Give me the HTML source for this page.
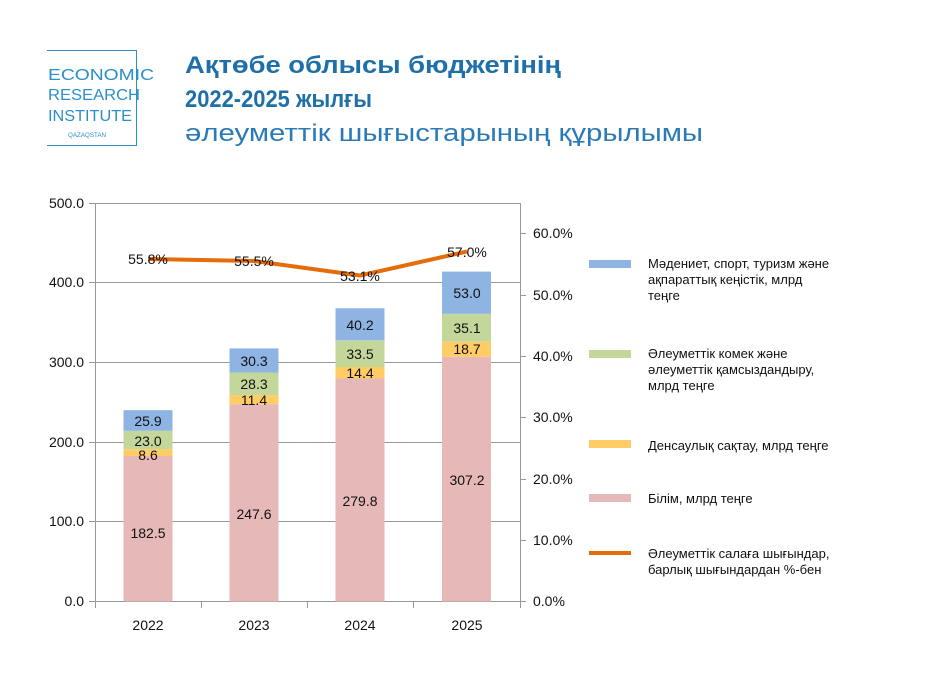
<!DOCTYPE html>
<html><head><meta charset="utf-8"><style>
body{margin:0;width:925px;height:672px;background:#fff;overflow:hidden;font-family:"Liberation Sans","DejaVu Sans",sans-serif}
</style></head><body>
<svg width="925" height="672" xmlns="http://www.w3.org/2000/svg" font-family="Liberation Sans, DejaVu Sans, sans-serif">
<!-- logo -->
<rect x="45.5" y="50.5" width="91" height="95" fill="none" stroke="#2b8fc9" stroke-width="1"/>
<rect x="44" y="50" width="3" height="96" fill="#fff"/>
<g fill="#2b8fc9" font-size="16" font-weight="300">
<text x="48" y="80" textLength="106" lengthAdjust="spacingAndGlyphs">ECONOMIC</text>
<text x="48" y="100" textLength="92" lengthAdjust="spacingAndGlyphs">RESEARCH</text>
<text x="48" y="121" textLength="84" lengthAdjust="spacingAndGlyphs">INSTITUTE</text>
<text x="68" y="137" font-size="6" textLength="38" lengthAdjust="spacingAndGlyphs">QAZAQSTAN</text>
</g>
<g fill="#1f6fa8" font-size="24">
<text x="185" y="73" font-weight="bold" textLength="376" lengthAdjust="spacingAndGlyphs">Ақтөбе облысы бюджетінің</text>
<text x="185" y="107" font-weight="bold" textLength="187" lengthAdjust="spacingAndGlyphs">2022-2025 жылғы</text>
<text x="185" y="141" fill="#2a7ab8" textLength="518" lengthAdjust="spacingAndGlyphs">әлеуметтік шығыстарының құрылымы</text>
</g>
<!-- grid -->
<g stroke="#999" stroke-width="1">
<line x1="89" y1="203.5" x2="520" y2="203.5"/>
<line x1="89" y1="282.5" x2="520" y2="282.5"/>
<line x1="89" y1="362.5" x2="520" y2="362.5"/>
<line x1="89" y1="442.5" x2="520" y2="442.5"/>
<line x1="89" y1="521.5" x2="520" y2="521.5"/>
<line x1="89" y1="601.5" x2="526" y2="601.5"/>
<line x1="95.5" y1="203" x2="95.5" y2="608"/>
<line x1="520.5" y1="203" x2="520.5" y2="608"/>
<line x1="201.5" y1="601" x2="201.5" y2="608"/>
<line x1="307.5" y1="601" x2="307.5" y2="608"/>
<line x1="413.5" y1="601" x2="413.5" y2="608"/>
<line x1="520" y1="233.5" x2="526" y2="233.5"/>
<line x1="520" y1="295.5" x2="526" y2="295.5"/>
<line x1="520" y1="356.5" x2="526" y2="356.5"/>
<line x1="520" y1="417.5" x2="526" y2="417.5"/>
<line x1="520" y1="479.5" x2="526" y2="479.5"/>
<line x1="520" y1="540.5" x2="526" y2="540.5"/>
</g>
<g font-size="14" fill="#111" text-anchor="end">
<text x="84" y="208">500.0</text><text x="84" y="287">400.0</text><text x="84" y="367">300.0</text>
<text x="84" y="447">200.0</text><text x="84" y="526">100.0</text><text x="84" y="606">0.0</text>
</g>
<g font-size="14" fill="#111">
<text x="533" y="238">60.0%</text><text x="533" y="300">50.0%</text><text x="533" y="361">40.0%</text>
<text x="533" y="422">30.0%</text><text x="533" y="484">20.0%</text><text x="533" y="545">10.0%</text><text x="533" y="606">0.0%</text>
</g>
<g font-size="14" fill="#111" text-anchor="middle">
<text x="148" y="630">2022</text><text x="254" y="630">2023</text><text x="360" y="630">2024</text><text x="467" y="630">2025</text>
</g>
<!-- bars -->
<g>
<rect x="123.5" y="456" width="49" height="145.5" fill="#e6b8b7"/>
<rect x="123.5" y="449.1" width="49" height="6.9" fill="#ffcc66"/>
<rect x="123.5" y="430.8" width="49" height="18.3" fill="#c4d79b"/>
<rect x="123.5" y="410.2" width="49" height="20.6" fill="#8db4e2"/>
<rect x="229.5" y="404.2" width="49" height="197.3" fill="#e6b8b7"/>
<rect x="229.5" y="395.1" width="49" height="9.1" fill="#ffcc66"/>
<rect x="229.5" y="372.5" width="49" height="22.6" fill="#c4d79b"/>
<rect x="229.5" y="348.4" width="49" height="24.1" fill="#8db4e2"/>
<rect x="335.5" y="378.5" width="49" height="223" fill="#e6b8b7"/>
<rect x="335.5" y="367" width="49" height="11.5" fill="#ffcc66"/>
<rect x="335.5" y="340.3" width="49" height="26.7" fill="#c4d79b"/>
<rect x="335.5" y="308.3" width="49" height="32" fill="#8db4e2"/>
<rect x="442" y="356.7" width="49" height="244.8" fill="#e6b8b7"/>
<rect x="442" y="341.8" width="49" height="14.9" fill="#ffcc66"/>
<rect x="442" y="313.8" width="49" height="28" fill="#c4d79b"/>
<rect x="442" y="271.6" width="49" height="42.2" fill="#8db4e2"/>
</g>
<g font-size="14" fill="#111" text-anchor="middle">
<text x="148" y="538">182.5</text><text x="148" y="460">8.6</text><text x="148" y="446">23.0</text><text x="148" y="426">25.9</text>
<text x="254" y="519">247.6</text><text x="254" y="405">11.4</text><text x="254" y="389">28.3</text><text x="254" y="366">30.3</text>
<text x="360" y="506">279.8</text><text x="360" y="378">14.4</text><text x="360" y="359">33.5</text><text x="360" y="330">40.2</text>
<text x="467" y="485">307.2</text><text x="467" y="354">18.7</text><text x="467" y="333">35.1</text><text x="467" y="298">53.0</text>
</g>
<polyline points="148,259 254,261 360,275.5 467,251.5" fill="none" stroke="#e46c0a" stroke-width="4" stroke-linejoin="round"/>
<g font-size="14" fill="#111" text-anchor="middle">
<text x="148" y="264">55.8%</text><text x="254" y="266">55.5%</text><text x="360" y="281">53.1%</text><text x="467" y="257">57.0%</text>
</g>
<!-- legend -->
<rect x="589" y="260" width="42" height="8" fill="#8db4e2"/>
<rect x="589" y="350" width="42" height="8" fill="#c4d79b"/>
<rect x="589" y="440" width="42" height="8" fill="#ffcc66"/>
<rect x="589" y="494" width="42" height="8" fill="#e6b8b7"/>
<rect x="589" y="551" width="42" height="4" fill="#e46c0a"/>
<g font-size="13" fill="#111">
<text x="648" y="268">Мәдениет, спорт, туризм және</text>
<text x="648" y="284">ақпараттық кеңістік, млрд</text>
<text x="648" y="300">теңге</text>
<text x="648" y="358">Әлеуметтік комек және</text>
<text x="648" y="374">әлеуметтік қамсыздандыру,</text>
<text x="648" y="390">млрд теңге</text>
<text x="648" y="450">Денсаулық сақтау, млрд теңге</text>
<text x="648" y="503">Білім, млрд теңге</text>
<text x="648" y="558">Әлеуметтік салаға шығындар,</text>
<text x="648" y="574">барлық шығындардан %-бен</text>
</g>
</svg>
</body></html>
